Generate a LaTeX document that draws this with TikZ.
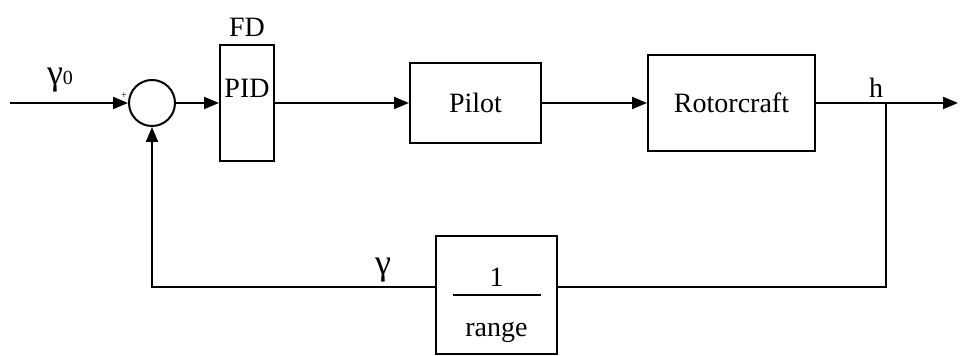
\documentclass[tikz,border=0pt]{standalone}
\usepackage{fontspec}
\setmainfont{Liberation Serif}
\usetikzlibrary{arrows.meta}

\begin{document}
\begin{tikzpicture}[x=0.5pt,y=-0.5pt,line width=1pt,
		font=\fontsize{14}{16}\selectfont,
		block/.style={draw, rectangle, line width=1pt},
		arr/.style={-{Triangle[length=7.5pt,width=6pt]}},
		greek/.style={font=\fontsize{18}{20}\selectfont}]
				\useasboundingbox (0,0) rectangle (960,356);
				\node (sum) [draw, circle, minimum size=23pt, inner sep=0pt] at (152,103) {};
				\node (box1) [block, minimum width=27pt, minimum height=58pt, label={above:FD}] at (247,103) {};
				\node (pid) at (247,88) {PID};
				\node (box2) [block, minimum width=65.5pt, minimum height=40pt] at (475.5,103) {Pilot};
				\node (box3) [block, minimum width=83.5pt, minimum height=48pt] at (731.5,103) {Rotorcraft};
				\node (box4) [block, minimum width=60.5pt, minimum height=59pt] at (496.5,295) {};
				\node (frac) [align=center] at ([yshift=-5pt]box4.center) {1\\[-11pt]\rule{44pt}{1pt}\\[4pt]range};
				
				\coordinate (in) at (10,103);
				\coordinate (out) at (958,103);
				\coordinate (split) at (886,103);
				\coordinate (corner) at (886,287);
				
				% Arrows
				\draw[arr] (in) -- (sum.west);
				\draw[arr] (sum.east) -- (box1.west);
				\draw[arr] (box1.east) -- (box2.west);
				\draw[arr] (box2.east) -- (box3.west);
				\draw[arr] (box3.east) -- (out);
				
				% Feedback
				\draw (split) -- (corner) -- (corner -| box4.east);
				\draw[arr] (box4.west |- corner) -| (sum.south);
				
				% Labels
				\node (gam0) [greek] at (60,80) {γ{\fontsize{10}{12}\selectfont 0}};
				\node (plus) at (124,96) {\fontsize{5}{6}\selectfont +};
				\node (h) at (876,88) {h};
				\node (gam) [greek] at (383,270) {γ};
				
			\end{tikzpicture}
\end{document}
